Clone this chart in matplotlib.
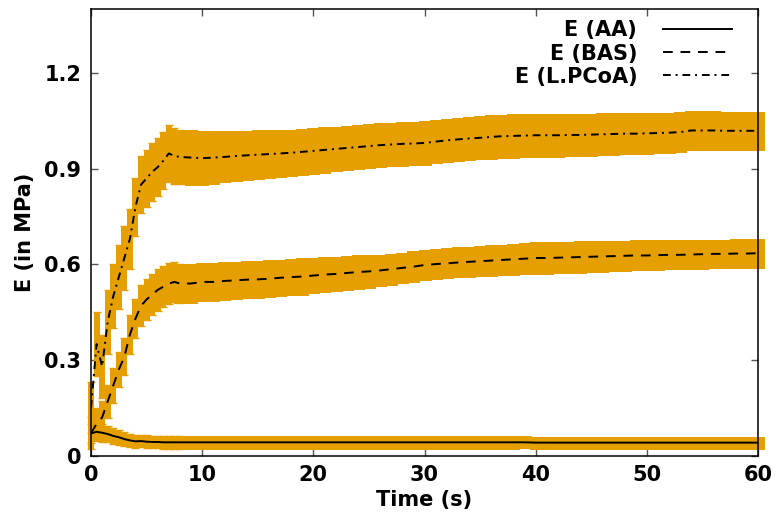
import matplotlib
matplotlib.use("Agg")
import matplotlib.pyplot as plt
import numpy as np

# ---- data ----
time_s = [0, 0.5, 1, 1.5, 2, 2.5, 3, 3.5, 4, 4.5, 5, 5.5, 6, 6.5, 7, 7.5, 8,
          9, 10, 11, 12, 13, 14, 15, 16, 17, 18, 19, 20, 21, 22, 23, 24, 25,
          26, 27, 28, 29, 30, 31, 32, 33, 34, 35, 36, 37, 38, 39, 40, 41, 42,
          43, 44, 45, 46, 47, 48, 49, 50, 51, 52, 53, 54, 55, 56, 57, 58, 59, 60]

E_AA = [0.070, 0.075, 0.072, 0.068, 0.062, 0.058, 0.052, 0.048, 0.045, 0.046,
        0.044, 0.043, 0.043, 0.042, 0.042, 0.042, 0.042,
        0.042, 0.042, 0.042, 0.042, 0.042, 0.042, 0.042, 0.042, 0.042, 0.042,
        0.042, 0.042, 0.042, 0.042, 0.042, 0.042, 0.042, 0.042, 0.042, 0.042,
        0.042, 0.042, 0.042, 0.042, 0.042, 0.042, 0.042, 0.042, 0.042, 0.042,
        0.042, 0.041, 0.041, 0.041, 0.041, 0.041, 0.041, 0.041, 0.041, 0.041,
        0.041, 0.041, 0.041, 0.041, 0.041, 0.041, 0.041, 0.041, 0.041, 0.041,
        0.041, 0.041]
err_AA = [0.030, 0.030, 0.028, 0.025, 0.024, 0.023, 0.022, 0.021, 0.020, 0.020,
          0.020, 0.020, 0.020, 0.020, 0.020, 0.020, 0.020,
          0.020, 0.020, 0.020, 0.020, 0.020, 0.020, 0.020, 0.020, 0.020, 0.020,
          0.020, 0.020, 0.020, 0.020, 0.020, 0.020, 0.020, 0.020, 0.020, 0.020,
          0.020, 0.020, 0.020, 0.020, 0.020, 0.020, 0.020, 0.020, 0.020, 0.020,
          0.019, 0.019, 0.019, 0.019, 0.019, 0.019, 0.019, 0.019, 0.019, 0.019,
          0.019, 0.019, 0.019, 0.019, 0.019, 0.019, 0.019, 0.019, 0.019, 0.019,
          0.019, 0.019]

E_BAS = [0.070, 0.100, 0.120, 0.170, 0.220, 0.270, 0.310, 0.380, 0.430, 0.470,
         0.490, 0.505, 0.520, 0.530, 0.540, 0.545, 0.540,
         0.540, 0.545, 0.545, 0.548, 0.550, 0.552, 0.553, 0.555, 0.558, 0.560,
         0.562, 0.565, 0.568, 0.570, 0.573, 0.576, 0.578, 0.581, 0.585, 0.589,
         0.593, 0.598, 0.601, 0.603, 0.606, 0.608, 0.610, 0.612, 0.614, 0.616,
         0.618, 0.620, 0.620, 0.621, 0.622, 0.623, 0.624, 0.625, 0.626, 0.627,
         0.628, 0.628, 0.629, 0.630, 0.630, 0.631, 0.632, 0.633, 0.633, 0.634,
         0.634, 0.635]
err_BAS = [0.050, 0.050, 0.050, 0.052, 0.054, 0.056, 0.058, 0.060, 0.062, 0.064,
           0.065, 0.065, 0.065, 0.065, 0.065, 0.062, 0.060,
           0.060, 0.060, 0.060, 0.059, 0.059, 0.058, 0.058, 0.058, 0.057, 0.057,
           0.057, 0.056, 0.055, 0.054, 0.053, 0.052, 0.051, 0.050, 0.049, 0.048,
           0.048, 0.047, 0.047, 0.047, 0.047, 0.047, 0.047, 0.048, 0.048, 0.048,
           0.048, 0.049, 0.049, 0.049, 0.049, 0.049, 0.048, 0.048, 0.048, 0.047,
           0.047, 0.047, 0.046, 0.046, 0.046, 0.046, 0.045, 0.045, 0.045, 0.045,
           0.045, 0.045]

E_LPCoA = [0.150, 0.350, 0.280, 0.420, 0.500, 0.560, 0.620, 0.680, 0.780, 0.850,
           0.870, 0.890, 0.905, 0.925, 0.948, 0.940, 0.937,
           0.935, 0.933, 0.935, 0.937, 0.940, 0.942, 0.944, 0.946, 0.948, 0.950,
           0.953, 0.956, 0.959, 0.962, 0.965, 0.968, 0.971, 0.974, 0.976, 0.978,
           0.979, 0.981, 0.985, 0.989, 0.992, 0.995, 0.997, 1.000, 1.002, 1.003,
           1.004, 1.005, 1.005, 1.005, 1.006, 1.006, 1.007, 1.008, 1.009, 1.010,
           1.010, 1.011, 1.012, 1.013, 1.015, 1.020, 1.020, 1.020, 1.019, 1.019,
           1.019, 1.019]
err_LPCoA = [0.080, 0.100, 0.100, 0.100, 0.100, 0.100, 0.100, 0.095, 0.090, 0.090,
             0.090, 0.090, 0.090, 0.090, 0.090, 0.088, 0.086,
             0.085, 0.084, 0.082, 0.080, 0.078, 0.077, 0.076, 0.075, 0.074, 0.073,
             0.073, 0.072, 0.071, 0.070, 0.070, 0.069, 0.069, 0.068, 0.068, 0.068,
             0.068, 0.068, 0.068, 0.068, 0.068, 0.068, 0.068, 0.068, 0.068, 0.068,
             0.068, 0.068, 0.068, 0.068, 0.067, 0.067, 0.066, 0.066, 0.065, 0.065,
             0.064, 0.064, 0.063, 0.063, 0.062, 0.062, 0.061, 0.061, 0.060, 0.060,
             0.060, 0.060]

labels = ["E (AA)", "E (BAS)", "E (L.PCoA)"]
x_ticks = [0, 10, 20, 30, 40, 50, 60]
y_ticks = [0, 0.3, 0.6, 0.9, 1.2]
y_ticklabels = ["0", "0.3", "0.6", "0.9", "1.2"]

# ---- figure ----
plt.rcParams['font.family'] = ['DejaVu Sans']
plt.rcParams['font.weight'] = 'bold'
FS = 15
fig = plt.figure(figsize=(7.79, 5.14), dpi=100)
ax = fig.add_axes([91 / 779, 1 - 455.7 / 514, (758 - 91) / 779, (455.7 - 9.3) / 514])

orange = '#E69F00'
series = [(E_AA, err_AA, '-'), (E_BAS, err_BAS, '--'), (E_LPCoA, err_LPCoA, '-.')]
n_early = 17  # samples at 0.5 s spacing
for vals, errs, ls in series:
    # early, densely sampled part: thinner bars with small caps
    eb1 = ax.errorbar(time_s[:n_early], vals[:n_early], yerr=errs[:n_early],
                      fmt='none', ecolor=orange, elinewidth=4.2, capsize=3,
                      capthick=1, zorder=2)
    # later part: thick bars forming a continuous band
    eb2 = ax.errorbar(time_s[n_early - 1:], vals[n_early - 1:], yerr=errs[n_early - 1:],
                      fmt='none', ecolor=orange, elinewidth=9, capsize=0, zorder=2)
    for eb in (eb1, eb2):
        for art in eb.lines[2]:
            art.set_clip_on(False)
            art.set_antialiased(False)
        for art in eb.lines[1]:
            art.set_clip_on(False)

handles = []
dash_styles = {'-': '-', '--': (0, (5, 4)), '-.': (0, (4, 2.5, 1, 2.5))}
for (vals, errs, ls), lab in zip(series, labels):
    ln, = ax.plot(time_s, vals, color='black', lw=1.4, linestyle=dash_styles[ls],
                  label=lab, zorder=3)
    handles.append(ln)

ax.set_xlim(0, 60)
ax.set_ylim(0, 1.4)
ax.set_xticks(x_ticks)
ax.set_yticks(y_ticks)
ax.set_yticklabels(y_ticklabels)
ax.tick_params(direction='in', top=True, right=True, length=5, width=1,
               color='#555555', labelsize=FS, pad=7)
for lab in ax.get_xticklabels() + ax.get_yticklabels():
    lab.set_fontweight('bold')
for sp in ax.spines.values():
    sp.set_linewidth(1.1)
    sp.set_color('black')

ax.set_xlabel("Time (s)", fontsize=FS, fontweight='bold', labelpad=3)
ax.set_ylabel("E (in MPa)", fontsize=FS, fontweight='bold', labelpad=7)

leg = ax.legend(handles=handles, labels=labels, loc='upper right',
                bbox_to_anchor=((732 - 91) / 667, 0.975), frameon=False,
                markerfirst=False, fontsize=FS, handlelength=3.3,
                handletextpad=1.25, labelspacing=0.15, borderpad=0,
                borderaxespad=0)
for t in leg.get_texts():
    t.set_fontweight('bold')

fig.savefig("out.png", dpi=100)
